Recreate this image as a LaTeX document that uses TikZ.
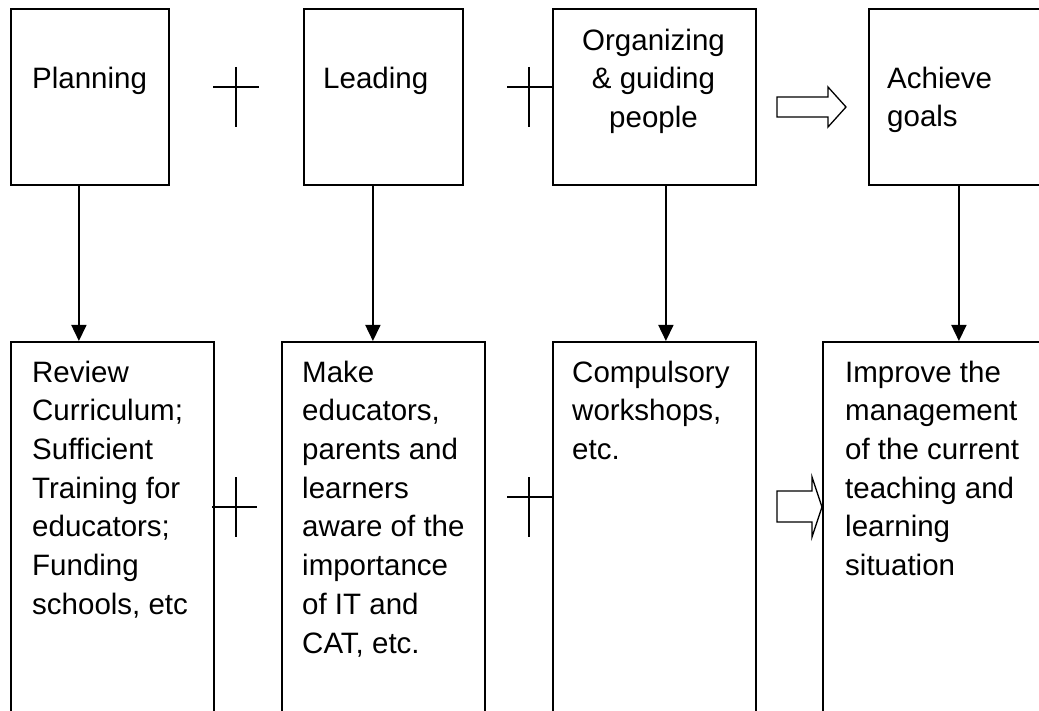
\documentclass[tikz,border=0pt]{standalone}
\usepackage{fontspec}
\setmainfont{Liberation Sans}
\usetikzlibrary{arrows.meta}

\begin{document}
\begin{tikzpicture}[x=1pt,y=-1pt]
\tikzstyle{box}=[rectangle, draw=black, line width=1.8pt, anchor=north west, inner sep=0pt]
\tikzstyle{txt}=[anchor=north west, inner sep=0pt, align=left, font=\fontsize{29.5}{38.7}\selectfont]
\tikzstyle{connect}=[-{Triangle[length=16pt,width=15pt]}, line width=1.6pt]
\tikzstyle{cross}=[line width=1.6pt]
\tikzstyle{bigarrow}=[draw=black, line width=1.3pt, fill=white]
	\useasboundingbox (0,0) rectangle (1039,711);
	\clip (0,0) rectangle (1039,711);
	% top row
	\node[box, minimum width=158pt, minimum height=176pt] (t1) at (10,8) { };
	\node[box, minimum width=159pt, minimum height=176pt] (t2) at (303,8) { };
	\node[box, minimum width=203pt, minimum height=176pt] (t3) at (552,8) { };
	\node[box, minimum width=180pt, minimum height=176pt] (t4) at (868,8) { };
	\node[txt] (t1text) at (32,60.9) {\strut Planning};
	\node[txt] (t2text) at (323,60.9) {\strut Leading};
	\node[txt, anchor=north, align=center] (t3text) at (653.5,22.9) {\strut Organizing\\ \& guiding\\ people};
	\node[txt] (t4text) at (887,60.9) {\strut Achieve\\ goals};
	% bottom row
	\node[box, minimum width=203pt, minimum height=400pt] (b1) at (10,341) { };
	\node[box, minimum width=203pt, minimum height=400pt] (b2) at (281,341) { };
	\node[box, minimum width=203pt, minimum height=400pt] (b3) at (552,341) { };
	\node[box, minimum width=240pt, minimum height=400pt] (b4) at (822,341) { };
	\node[txt] (b1text) at (32,354.9) {\strut Review\\ Curriculum;\\ Sufficient\\ Training for\\ educators;\\ Funding\\ schools, etc};
	\node[txt] (b2text) at (302,354.9) {\strut Make\\ educators,\\ parents and\\ learners\\ aware of the\\ importance\\ of IT and\\ CAT, etc.};
	\node[txt] (b3text) at (572,354.9) {\strut Compulsory\\ workshops,\\ etc.};
	\node[txt] (b4text) at (845,354.9) {\strut Improve the\\ management\\ of the current\\ teaching and\\ learning\\ situation};
	% down arrows
	\draw[connect] ([xshift=-11pt]t1.south) -- ([xshift=-11pt]t1.south |- b1.north);
	\draw[connect] ([xshift=-10.5pt]t2.south) -- ([xshift=-10.5pt]t2.south |- b2.north);
	\draw[connect] ([xshift=11.5pt]t3.south) -- ([xshift=11.5pt]t3.south |- b3.north);
	\draw[connect] (t4.south) -- (t4.south |- b4.north);
	% plus signs
	\coordinate (p1) at (236,87);
	\coordinate (p2) at (529,87);
	\coordinate (p3) at (236,507);
	\coordinate (p4) at (529,497);
	\draw[cross] (p1) ++(-23,0) -- ++(46,0) (p1) ++(0,-20) -- ++(0,60);
	\draw[cross] (p2) ++(-22,0) -- (t3.west |- p2) (p2) ++(0,-20) -- ++(0,60);
	\draw[cross] (p3) ++(-24,0) -- ++(45,0) (p3) ++(0,-30) -- ++(0,60);
	\draw[cross] (p4) ++(-22,0) -- (b3.west |- p4) (p4) ++(0,-20) -- ++(0,60);
	% block arrows
	\coordinate (a1) at (777,97);
	\coordinate (a2) at (777,491);
	\draw[bigarrow] (a1) -- (828,97) -- (828,87) -- (846,107) -- (828,127) -- (828,117) -- (777,117) -- cycle;
	\draw[bigarrow] (a2) -- (812,491) -- (812,477) -- (b4.west |- 0,507) -- (812,537) -- (812,522) -- (777,522) -- cycle;
\end{tikzpicture}
\end{document}
